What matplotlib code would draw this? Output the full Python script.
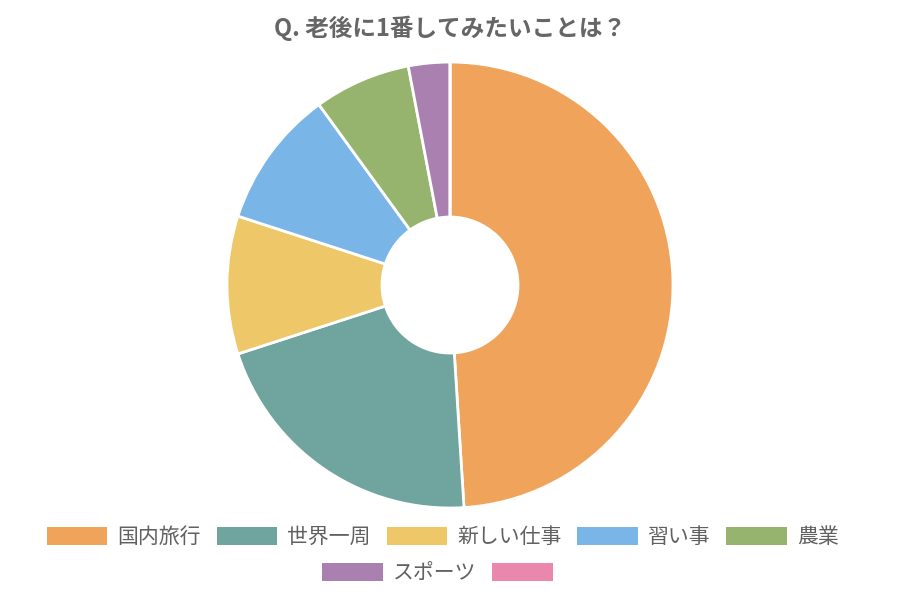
import matplotlib
matplotlib.use("Agg")
import matplotlib.pyplot as plt
from matplotlib.patches import Patch

plt.rcParams['font.family'] = ['Noto Sans CJK JP', 'DejaVu Sans']

# data (percent)
labels = ["国内旅行", "世界一周", "新しい仕事", "習い事", "農業", "スポーツ", ""]
values = [49, 21, 10, 10, 7, 3, 0]
colors = ["#F0A35A", "#70A59F", "#EDC768", "#79B5E6", "#97B46F", "#AA80B1", "#E987AC"]

fig = plt.figure(figsize=(9, 6), dpi=100)
ax = fig.add_axes([0.2522, 0.1533, 0.4956, 0.7433])

ax.pie(values, colors=colors, startangle=90, counterclock=False, radius=1,
       wedgeprops=dict(width=0.695, edgecolor="white", linewidth=2))
ax.set_xlim(-1.0, 1.0)
ax.set_ylim(-1.0, 1.0)
ax.set_aspect("equal")
ax.axis("off")

fig.text(0.5, 0.953, "Q. 老後に1番してみたいことは？", ha="center", va="center",
         fontsize=17, fontweight="bold", color="#666666")

handles = [Patch(facecolor=c, edgecolor="none") for c in colors]
leg_kw = dict(loc="center", frameon=False, fontsize=15, labelcolor="#606060",
              handlelength=2.9, handleheight=1.0, handletextpad=0.5,
              columnspacing=0.75, borderpad=0)
fig.legend(handles[:5], labels[:5], ncol=5, bbox_to_anchor=(0.492, 0.105), **leg_kw)
fig.legend(handles[5:], labels[5:], ncol=2, bbox_to_anchor=(0.492, 0.045), **leg_kw)

fig.savefig("out.png", dpi=100)
